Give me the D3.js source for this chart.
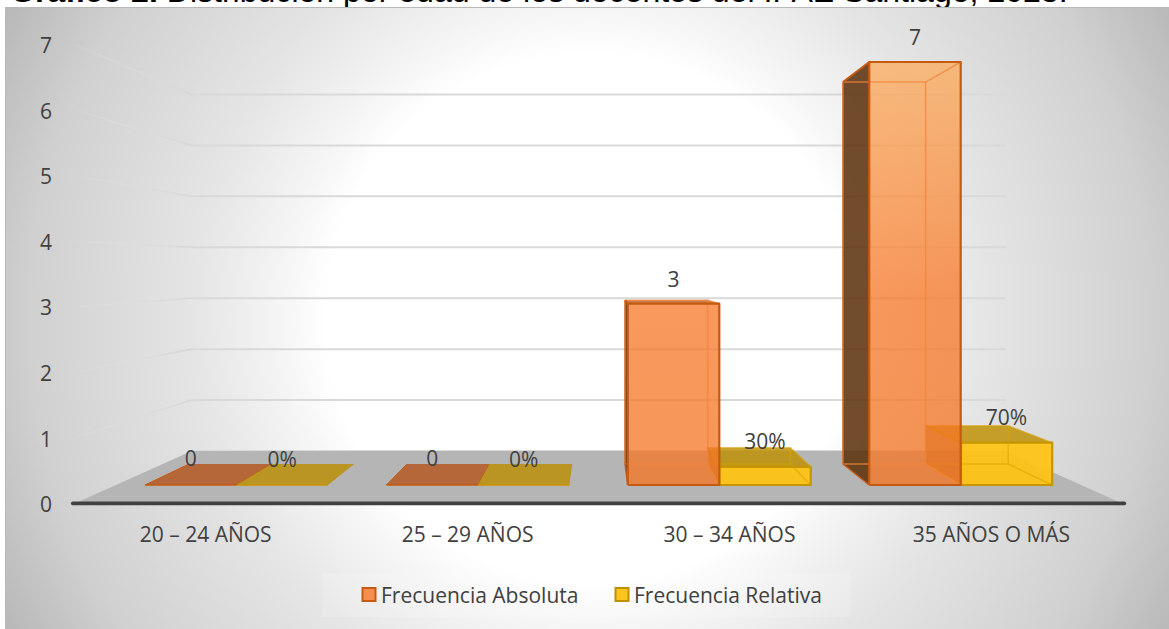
<!DOCTYPE html>
<html lang="es"><head><meta charset="utf-8">
<script src="https://cdnjs.cloudflare.com/ajax/libs/d3/7.8.5/d3.min.js"></script>
<style>html,body{margin:0;padding:0;background:#fff;overflow:hidden}svg{display:block}
text{font-family:"Open Sans",sans-serif;fill:#404040}</style></head><body>
<script>
const categories = ["20 – 24 AÑOS","25 – 29 AÑOS","30 – 34 AÑOS","35 AÑOS O MÁS"];
const absoluta = [0,0,3,7];
const relativa = [0,0,0.3,0.7];
const relativaLabels = ["0%","0%","30%","70%"];
const serieNames = ["Frecuencia Absoluta","Frecuencia Relativa"];
const yTicks = [0,1,2,3,4,5,6,7];
const titleBold = "Gráfico 2.";
const titleRest = " Distribución por edad de los docentes del IPAE Santiago, 2023.";

const W=1169,H=629;
const svg=d3.select("body").append("svg").attr("width",W).attr("height",H);
const defs=svg.append("defs");

// perspective projection
const vx=599, vy=268.6;
const S={floor:1.085,front:1,back:0.903,wall:0.843};
const P=(x,y,s)=>[vx+(x-vx)*s, vy+(y-vy)*s];
const xBand=d3.scaleBand().domain(categories).range([115.8,1081.4]).paddingInner(0.242).paddingOuter(0.121);
const xSub=d3.scaleBand().domain(serieNames).range([0,xBand.bandwidth()]);
const y=d3.scaleLinear().domain([0,7]).range([485,62]);
const line=d3.line();
const poly=pts=>line(pts)+"Z";

// title (cut by the panel)
const title=svg.append("text").attr("x",10).attr("y",2).style("font-family","'Liberation Sans',Arial,sans-serif").style("font-size","32.05px").style("fill","#000");
title.append("tspan").style("font-weight","bold").text(titleBold);
title.append("tspan").text(titleRest);

// panel
const g0=defs.append("radialGradient").attr("id","bg").attr("gradientUnits","userSpaceOnUse")
 .attr("cx",590).attr("cy",318).attr("r",660);
[[0,"#fff"],[0.4,"#fff"],[0.46,"#f6f6f6"],[0.6,"#e5e5e5"],[0.85,"#d0d0d0"],[1,"#b8b8b8"]].forEach(s=>g0.append("stop").attr("offset",s[0]).attr("stop-color",s[1]));
svg.append("rect").attr("x",5).attr("y",7).attr("width",W-5).attr("height",H-7).attr("fill","#b9b9b9");
svg.append("rect").attr("x",6).attr("y",8).attr("width",W-6).attr("height",H-8).attr("fill","url(#bg)");

// gridlines on back wall and left wall
const xL=xBand.range()[0], xR=xBand.range()[1];
yTicks.forEach(t=>{
  const a=P(xL,y(t),S.wall), b=P(xR,y(t),S.wall), c=P(xL,y(t),S.floor);
  if(t>0){
    const id="wf"+t;
    const g=defs.append("linearGradient").attr("id",id).attr("gradientUnits","userSpaceOnUse")
      .attr("x1",a[0]).attr("y1",a[1]).attr("x2",c[0]).attr("y2",c[1]);
    g.append("stop").attr("offset",0).attr("stop-color","#d6d6d6");
    g.append("stop").attr("offset",1).attr("stop-color","#e4e4e4").attr("stop-opacity",0.08);
    svg.append("path").attr("d",line([a,c])).attr("fill","none").attr("stroke",`url(#${id})`).attr("stroke-width",1.6);
  }
  svg.append("path").attr("d",line([a,b])).attr("fill","none").attr("stroke","#d9d9d9").attr("stroke-width",2);
});

// floor
svg.append("path").attr("d",poly([P(xL,y(0),S.wall),P(xR,y(0),S.wall),P(xR,y(0),S.floor),P(xL,y(0),S.floor)])).attr("fill","#b5b5b5");

// bar fills
const og=defs.append("linearGradient").attr("id","oFront").attr("gradientUnits","userSpaceOnUse").attr("x1",0).attr("x2",0).attr("y1",y(7)).attr("y2",y(0));
[[0,"#fdac5c"],[0.55,"#f7782a"],[1,"#f47523"]].forEach(s=>og.append("stop").attr("offset",s[0]).attr("stop-color",s[1]));

const styles={
 o:{front:"url(#oFront)",fa:0.75,side:"#f47523",sa:0.04,left:"#5f3410",la:0.88,top:"#b54605",ta:0.7,edge:"#c55a11",inner:"#f0853c",ia:0.75},
 y:{front:"#ffc30f",fa:0.9,side:"#ffc30f",sa:0.1,left:"#a05c00",la:0.55,top:"#bd8d00",ta:0.8,edge:"#c69500",inner:"#d9a400",ia:0.55}
};
function bar(x0,x1,v,st){
  const yt=y(v),yb=y(0);
  const fTL=P(x0,yt,S.front),fTR=P(x1,yt,S.front),fBR=P(x1,yb,S.front),fBL=P(x0,yb,S.front);
  const bTL=P(x0,yt,S.back),bTR=P(x1,yt,S.back),bBR=P(x1,yb,S.back),bBL=P(x0,yb,S.back);
  const f=(pts,fill,a)=>svg.append("path").attr("d",poly(pts)).attr("fill",fill).attr("fill-opacity",a);
  const l=(pts,c,w,a=1)=>svg.append("path").attr("d",line(pts)).attr("fill","none").attr("stroke",c).attr("stroke-opacity",a).attr("stroke-width",w).attr("stroke-linejoin","round");
  if(v>0){
    f([bTL,bTR,bBR,bBL],st.side,st.sa);
    f([fBL,fBR,bBR,bBL],st.side,st.sa*2);
    f([bTR,fTR,fBR,bBR],st.side,st.sa);
    f([bTL,fTL,fBL,bBL],st.left,st.la);
  }
  // top is only visible as a dark face when seen from above
  if(bTL[1]<fTL[1]) f([bTL,bTR,fTR,fTL],st.top,st.ta);
  if(v>0) f([fTL,fTR,fBR,fBL],st.front,st.fa);
  if(v>0){
    l([bTL,bTR,bBR,bBL,bTL],st.inner,1.5,st.ia);
    l([bTR,fTR],st.inner,1.5,st.ia); l([bBR,fBR],st.inner,1.5,st.ia);
    l([bBL,fBL],st.edge,1.5); l([bTL,fTL],st.edge,2);
    l([fBL,fTL,fTR,fBR,fBL],st.edge,2.2);
    l([bTL,bBL],st.edge,1);
  } else {
    l([fBL,fBR],st.edge,1.6);
    l([bBL,fBL],st.edge,1);
  }
}
categories.forEach((c,i)=>{
  const x=xBand(c);
  const sO=x+xSub(serieNames[0]), sY=x+xSub(serieNames[1]), w=xSub.bandwidth();
  bar(sY,sY+w,relativa[i],styles.y);
  bar(sO,sO+w,absoluta[i],styles.o);
});

// axis line
svg.append("path").attr("d",line([P(xL,y(0),S.floor),P(xR,y(0),S.floor)].map((p,i)=>[p[0]+(i?2:-2),p[1]]))).attr("stroke","#404040").attr("stroke-width",3.6).attr("stroke-linecap","round");

// axes (labels only)
const FS="21px";
const yAxisScale=d3.scaleLinear().domain([0,7]).range([P(xL,y(0),S.floor)[1],P(xL,y(7),S.floor)[1]]);
const yAx=svg.append("g").attr("transform","translate(52,1.5)").call(d3.axisLeft(yAxisScale).tickValues(yTicks).tickSize(0).tickPadding(0).tickFormat(d3.format("d")));
yAx.select(".domain").remove();
yAx.selectAll("text").style("font-size",FS).style("font-family","'Open Sans'").style("fill","#404040");
const xAxisScale=d3.scaleBand().domain(categories).range([P(xL,0,S.floor)[0],P(xR,0,S.floor)[0]]);
const xAx=svg.append("g").attr("transform","translate(0,523)").call(d3.axisBottom(xAxisScale).tickSize(0).tickPadding(4));
xAx.select(".domain").remove();
xAx.selectAll("text").style("font-size",FS).style("font-family","'Open Sans'").style("fill","#404040");

// value labels
const lab=(x,yy,t)=>svg.append("text").attr("x",x).attr("y",yy).attr("text-anchor","middle").attr("dominant-baseline","central").style("font-size",FS).text(t);
categories.forEach((c,i)=>{
  const x=xBand(c), w=xSub.bandwidth();
  const o=absoluta[i], r=relativa[i];
  lab(x+xSub(serieNames[0])+w/2, y(o)-(o>0?25:27), String(o));
  lab(x+xSub(serieNames[1])+w/2, y(r)-26, relativaLabels[i]);
});

// legend
svg.append("rect").attr("x",322).attr("y",573).attr("width",528).attr("height",44).attr("fill","#fff").attr("fill-opacity",0.15);
const legendX=[361.5,614.5], legendFill=["#f58d4e","#ffc51e"], legendEdge=["#c55a11","#bf9000"];
serieNames.forEach((n,i)=>{
  svg.append("rect").attr("x",legendX[i]+1).attr("y",588).attr("width",13).attr("height",13).attr("fill",legendFill[i]).attr("stroke",legendEdge[i]).attr("stroke-width",2);
  svg.append("text").attr("x",legendX[i]+19.5).attr("y",595).attr("dominant-baseline","central").style("font-size",FS).text(n);
});
</script></body></html>
